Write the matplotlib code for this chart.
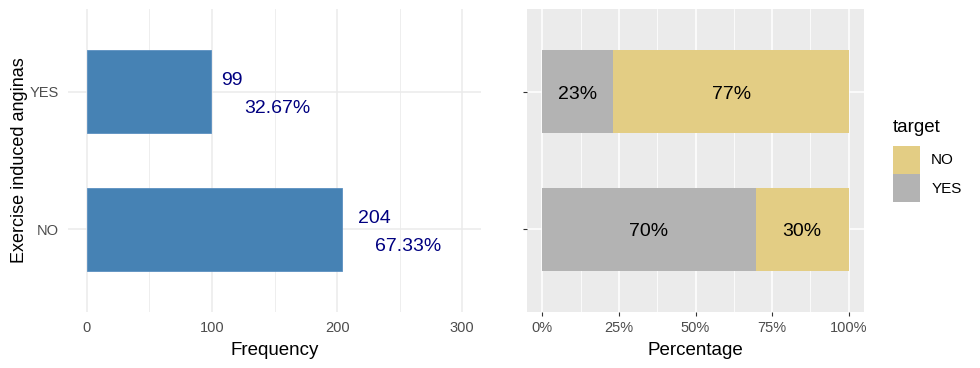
import numpy as np
import matplotlib.pyplot as plt
from matplotlib.patches import Patch
from matplotlib.ticker import MultipleLocator, FuncFormatter

plt.rcParams['font.family'] = ['Liberation Sans', 'DejaVu Sans']

# data (heart dataset, exercise induced angina)
categories = ['NO', 'YES']
counts = [204, 99]
target_yes = [142, 23]
target_no = [62, 76]

total = sum(counts)
pcts = [c / total * 100 for c in counts]

steel = '#4682B4'
col_no = '#E3CD84'
col_yes = '#B3B3B3'
tick_col = '#4D4D4D'

fig = plt.figure(figsize=(9.8, 3.68), dpi=100)
ax1 = fig.add_axes([68/980, 56/368, 413/980, 303/368])
ax2 = fig.add_axes([527/980, 56/368, 337/980, 303/368])

ypos = np.arange(len(categories))

# ---- left: frequency bars
ax1.barh(ypos, counts, height=0.6, color=steel, edgecolor='#5B8FC0', linewidth=0.6, zorder=3)
ax1.set_xlim(-15, 315)
ax1.set_ylim(-0.6, 1.6)
ax1.set_yticks(ypos)
ax1.set_yticklabels(categories)
ax1.xaxis.set_major_locator(MultipleLocator(100))
ax1.xaxis.set_minor_locator(MultipleLocator(50))
ax1.grid(which='major', color='#EBEBEB', lw=1.1, zorder=0)
ax1.grid(which='minor', axis='x', color='#EBEBEB', lw=0.6, zorder=0)
for s in ax1.spines.values():
    s.set_visible(False)
ax1.tick_params(which='both', length=0, labelsize=10.5, labelcolor=tick_col)
ax1.tick_params(axis='x', pad=6.5)
ax1.tick_params(axis='y', pad=6.5)
ax1.set_xlabel('Frequency', fontsize=13.5, labelpad=5)
ax1.set_ylabel('Exercise induced anginas', fontsize=13, labelpad=1)

renderer = fig.canvas.get_renderer()
for y, c, p in zip(ypos, counts, pcts):
    for txt, dy in [(str(c), 8), ('%.2f%%' % p, -12.2)]:
        t = ax1.annotate(txt, (c, y), xytext=(0, dy), textcoords='offset points',
                         ha='left', va='center', fontsize=14, color='#000080', zorder=4)
        w = t.get_window_extent(renderer).width * 72 / fig.dpi
        t.xyann = (w / 2, dy)

# ---- right: stacked percentage bars
share_yes = [a / (a + b) for a, b in zip(target_yes, target_no)]
share_no = [b / (a + b) for a, b in zip(target_yes, target_no)]
ax2.set_facecolor('#EBEBEB')
ax2.barh(ypos, share_yes, height=0.6, color=col_yes, zorder=3)
ax2.barh(ypos, share_no, left=share_yes, height=0.6, color=col_no, zorder=3)
for y, a, b in zip(ypos, share_yes, share_no):
    for xc, v in [(a / 2, a), (a + b / 2, b)]:
        ax2.annotate('%d%%' % round(v * 100), (xc, y), xytext=(0, -1.8), textcoords='offset points',
                     ha='center', va='center', fontsize=14, zorder=4)
ax2.set_xlim(-0.05, 1.05)
ax2.set_ylim(-0.6, 1.6)
ax2.set_yticks(ypos)
ax2.set_yticklabels([])
ax2.xaxis.set_major_locator(MultipleLocator(0.25))
ax2.xaxis.set_minor_locator(MultipleLocator(0.125))
ax2.xaxis.set_major_formatter(FuncFormatter(lambda v, _: '%d%%' % round(v * 100)))
ax2.grid(which='major', color='white', lw=1.1, zorder=0)
ax2.grid(which='minor', axis='x', color='white', lw=0.55, zorder=0)
ax2.set_axisbelow(True)
for s in ax2.spines.values():
    s.set_visible(False)
ax2.tick_params(which='major', length=2.75, width=0.8, color='#333333', labelsize=10.5,
                labelcolor=tick_col, pad=3.5)
ax2.tick_params(which='minor', length=0)
ax2.set_xlabel('Percentage', fontsize=13.5, labelpad=5)

# legend: title as separate text, keys below
fig.text(893/980, 1 - 128/368, 'target', fontsize=13.5, ha='left', va='center')
handles = [Patch(facecolor=col_no, edgecolor='none', label='NO'),
           Patch(facecolor=col_yes, edgecolor='none', label='YES')]
leg = fig.legend(handles=handles, loc='upper left',
                 bbox_to_anchor=(893/980, 1 - 146/368), frameon=False, fontsize=11,
                 handlelength=1.75, handleheight=2.4,
                 labelspacing=0.05, handletextpad=0.75, borderpad=0, borderaxespad=0)

fig.savefig('out.png', dpi=100)
